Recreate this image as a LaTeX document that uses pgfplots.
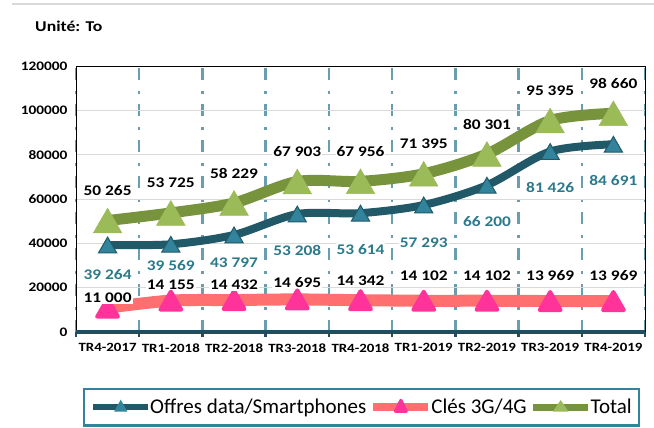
\documentclass[border=0pt]{standalone}
\usepackage{pgfplots}
\pgfplotsset{compat=1.18}
\usepackage{fontspec}
\setmainfont[FakeStretch=1.18]{Carlito}
\newfontfamily\legfont{Carlito}

\definecolor{offdark}{HTML}{215968}
\definecolor{offfill}{HTML}{31849B}
\definecolor{offlabel}{HTML}{2B7A8C}
\definecolor{cleline}{HTML}{FF6F6F}
\definecolor{clemark}{HTML}{FF3399}
\definecolor{totline}{HTML}{77933C}
\definecolor{totmark}{HTML}{9BBB59}
\definecolor{gridteal}{HTML}{6A9EAF}
\definecolor{axisteal}{HTML}{1F4E5F}
\definecolor{legteal}{HTML}{31849B}

\begin{document}
\begin{tikzpicture}
\draw[gray!30, line width=2pt] (12pt,-4pt) -- (654pt,-4pt);
\node[anchor=west, font=\fontsize{15}{18}\selectfont\bfseries, inner sep=0pt] at (35pt,-26pt) {Unité: To};
\begin{axis}[
    at={(76pt,-332pt)}, anchor=south west,
    scale only axis, width=569pt, height=266pt,
    xmin=-0.5, xmax=8.5, ymin=0, ymax=120000,
    xtick={0,...,8},
    xticklabels={TR4-2017,TR1-2018,TR2-2018,TR3-2018,TR4-2018,TR1-2019,TR2-2019,TR3-2019,TR4-2019},
    minor xtick={-0.5,0.5,...,8.5},
    xminorgrids=true,
    minor grid style={color=gridteal, line width=2.5pt, dash pattern=on 12pt off 10pt on 3pt off 11pt},
    ytick={0,20000,40000,60000,80000,100000,120000},
    yticklabels={0,20000,40000,60000,80000,100000,120000},
    ymajorgrids=true,
    major grid style={color=black!15, line width=1pt},
    major tick length=0pt, minor tick length=0pt,
    axis line style={black, line width=0.8pt},
    tick label style={font=\fontsize{13}{15}\selectfont\bfseries},
    xticklabel style={yshift=-8pt, font=\fontsize{12.6}{15}\selectfont\bfseries},
    yticklabel style={xshift=-5pt},
    scaled y ticks=false,
    clip=false,
    legend columns=3,
    legend style={at={(0.0123,-0.2105)}, anchor=north west, draw=legteal, line width=2.5pt,
        font=\legfont\fontsize{21}{24}\selectfont, inner xsep=6pt, inner ysep=9pt,
        nodes={inner sep=1pt},
        /tikz/every odd column/.append style={column sep=-2pt},
        /tikz/every even column/.append style={column sep=2pt}},
    legend cell align=left,
    after end axis/.code={
        \draw[line width=4pt, color=axisteal] (axis cs:-0.5,0) -- (axis cs:8.5,0);
        \foreach \xx in {-0.5,0.5,1.5,2.5,3.5,4.5,5.5,6.5,7.5,8.5}
            \draw[line width=2.5pt, color=axisteal] (axis cs:\xx,0) -- ++(0,-5pt);
    },
]

% Offres data/Smartphones
\addplot[forget plot, smooth, color=offdark, line width=8pt, mark=triangle*, mark size=10.5pt,
    mark options={fill=offfill, draw=offdark, line width=1pt, yshift=-2.6pt},
    nodes near coords, point meta=explicit symbolic,
    visualization depends on={value \thisrow{dy} \as \dy},
    nodes near coords align={anchor=center},
    every node near coord/.style={font=\fontsize{14.7}{17}\selectfont\bfseries, text=offlabel,
        fill=white, inner sep=1pt, yshift=\dy pt}
] table[col sep=comma, row sep=\\, meta=lab] {
    x,y,lab,dy\\
    0,39264,39 264,-26.7\\
    1,39569,39 569,-19\\
    2,43797,43 797,-25\\
    3,53208,53 208,-34\\
    4,53614,53 614,-33.6\\
    5,57293,57 293,-34.7\\
    6,66200,66 200,-34\\
    7,81426,81 426,-33.5\\
    8,84691,84 691,-34\\
};

% Cles 3G/4G
\addplot[forget plot, smooth, color=cleline, line width=12pt, mark=triangle*, mark size=12pt,
    mark options={fill=clemark, draw=clemark, line width=4pt, line join=round, yshift=-3pt},
    nodes near coords, point meta=explicit symbolic,
    visualization depends on={value \thisrow{dy} \as \dy},
    nodes near coords align={anchor=center},
    every node near coord/.style={font=\fontsize{14.7}{17}\selectfont\bfseries, text=black,
        fill=white, inner sep=1pt, yshift=\dy pt}
] table[col sep=comma, row sep=\\, meta=lab] {
    x,y,lab,dy\\
    0,11000,11 000,12.6\\
    1,14155,14 155,19\\
    2,14432,14 432,18\\
    3,14695,14 695,20\\
    4,14342,14 342,22\\
    5,14102,14 102,28\\
    6,14102,14 102,28\\
    7,13969,13 969,28.5\\
    8,13969,13 969,28.5\\
};

% Total
\addplot[forget plot, smooth, color=totline, line width=11pt, mark=triangle*, mark size=16.5pt,
    mark options={fill=totmark, draw=totmark, line width=0.5pt, yshift=-4.1pt},
    nodes near coords, point meta=explicit symbolic,
    nodes near coords align={anchor=center},
    every node near coord/.style={font=\fontsize{14.7}{17}\selectfont\bfseries, text=black,
        fill=white, inner sep=1pt, yshift=34pt}
] coordinates {
    (0,50265) [50 265]
    (1,53725) [53 725]
    (2,58229) [58 229]
    (3,67903) [67 903]
    (4,67956) [67 956]
    (5,71395) [71 395]
    (6,80301) [80 301]
    (7,95395) [95 395]
    (8,98660) [98 660]
};

\addlegendimage{legend image code/.code={
    \draw[line width=6pt, color=offdark] (0pt,0pt) -- (55pt,0pt);
    \fill[offfill] (27.5pt,5pt) -- (23pt,-3pt) -- (32pt,-3pt) -- cycle;}}
\addlegendentry{Offres data/Smartphones}
\addlegendimage{legend image code/.code={
    \draw[line width=8pt, color=cleline] (0pt,0pt) -- (55pt,0pt);
    \filldraw[clemark, line width=3pt, line join=round] (27.5pt,7pt) -- (22pt,-4pt) -- (33pt,-4pt) -- cycle;}}
\addlegendentry{Clés 3G/4G}
\addlegendimage{legend image code/.code={
    \draw[line width=7pt, color=totline] (0pt,0pt) -- (55pt,0pt);
    \fill[totmark] (27.5pt,5pt) -- (22pt,-3pt) -- (33pt,-3pt) -- cycle;}}
\addlegendentry{Total}

\end{axis}
\pgfresetboundingbox
\useasboundingbox (0,0) rectangle (654pt,-428pt);
\end{tikzpicture}
\end{document}
